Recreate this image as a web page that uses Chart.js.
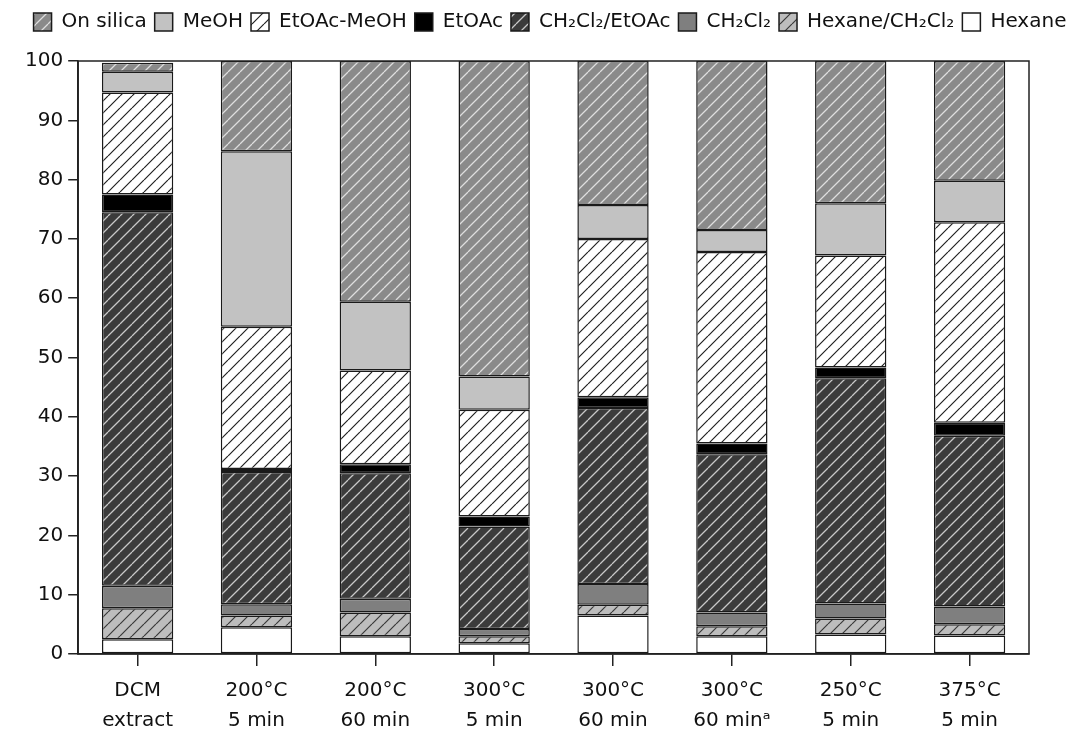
<!DOCTYPE html>
<html>
<head>
<meta charset="utf-8">
<script src="https://cdn.jsdelivr.net/npm/chart.js@4.4.1/dist/chart.umd.min.js"></script>
<style>
  html,body{margin:0;padding:0;background:#fff;}
  #wrap{width:1082px;height:731px;position:relative;}
</style>
</head>
<body>
<div id="wrap"><canvas id="c" width="1082" height="731"></canvas></div>
<script>
// categories (two-line labels)
const categories = [
  ["DCM","extract"],["200°C","5 min"],["200°C","60 min"],["300°C","5 min"],
  ["300°C","60 min"],["300°C","60 minᵃ"],["250°C","5 min"],["375°C","5 min"]
];
// fractions in %, bottom of stack first
const hexane       = [2.5, 4.5, 3.0, 1.8, 6.5, 3.0, 3.3, 3.1];
const hexaneDcm    = [5.2, 2.0, 4.0, 1.2, 1.8, 1.7, 2.7, 1.9];
const dcm          = [3.8, 1.9, 2.3, 1.2, 3.5, 2.3, 2.5, 3.0];
const dcmEtoac     = [63.0, 22.3, 21.2, 17.3, 29.7, 26.7, 38.0, 28.8];
const etoac        = [3.0, 0.5, 1.5, 1.7, 1.8, 1.8, 1.8, 2.2];
const etoacMeoh    = [17.2, 24.0, 15.8, 18.0, 26.7, 32.3, 18.9, 33.8];
const meoh         = [3.5, 29.6, 11.6, 5.6, 5.7, 3.7, 8.8, 7.0];
const onSilica     = [1.5, 15.2, 40.6, 53.2, 24.3, 28.5, 24.0, 20.2];
const yTicks = [0,10,20,30,40,50,60,70,80,90,100];

function hatch(bg, fg, lw, size){
  const c = document.createElement('canvas');
  c.width = c.height = size;
  const g = c.getContext('2d');
  g.fillStyle = bg; g.fillRect(0,0,size,size);
  g.strokeStyle = fg; g.lineWidth = lw;
  g.beginPath();
  [-size,0,size].forEach(k=>{ g.moveTo(k,size); g.lineTo(k+size,0); });
  g.stroke();
  return g.createPattern(c,'repeat');
}

const FONT = "'DejaVu Sans', sans-serif";
const series = [
  {label:"Hexane", data:hexane, backgroundColor:"#ffffff"},
  {label:"Hexane/CH₂Cl₂", data:hexaneDcm, backgroundColor:hatch("#bdbdbd","#3a3a3a",1.2,12)},
  {label:"CH₂Cl₂", data:dcm, backgroundColor:"#7f7f7f"},
  {label:"CH₂Cl₂/EtOAc", data:dcmEtoac, backgroundColor:hatch("#3b3b3b","#c8c8c8",1.3,12)},
  {label:"EtOAc", data:etoac, backgroundColor:"#000000"},
  {label:"EtOAc-MeOH", data:etoacMeoh, backgroundColor:hatch("#ffffff","#222222",1.2,12)},
  {label:"MeOH", data:meoh, backgroundColor:"#c2c2c2"},
  {label:"On silica", data:onSilica, backgroundColor:hatch("#8a8a8a","#dedede",1.3,12)}
].map(s=>Object.assign(s,{borderColor:"#1a1a1a", borderWidth:1.5, borderSkipped:false,
  barPercentage:0.6, categoryPercentage:1.0}));

// box around plot area + extra gap under the legend
const frame = {
  id:'frame',
  beforeInit(chart){
    const fit = chart.legend.fit;
    chart.legend.fit = function(){ fit.call(this); this.height += 19; };
  },
  afterDatasetsDraw(chart){
    const {ctx, chartArea:a} = chart;
    ctx.save(); ctx.strokeStyle="#222"; ctx.lineWidth=1.5;
    ctx.strokeRect(a.left, a.top, a.right-a.left, a.bottom-a.top);
    ctx.restore();
  }
};

new Chart(document.getElementById('c'), {
  type:'bar',
  data:{labels:categories, datasets:series},
  plugins:[frame],
  options:{
    responsive:false, animation:false,
    layout:{padding:{left:20, right:2, top:4, bottom:-15}},
    plugins:{
      tooltip:{enabled:false},
      legend:{position:'top', reverse:true,
        labels:{color:"#111", font:{family:FONT, size:20}, boxWidth:18, boxHeight:18, padding:8}}
    },
    scales:{
      x:{stacked:true,
        grid:{display:true, drawOnChartArea:false, offset:false, tickLength:12, color:"#222", lineWidth:1.5},
        border:{color:"#222", width:1.5},
        ticks:{color:"#111", font:{family:FONT, size:20, lineHeight:1.5}, padding:10, maxRotation:0}},
      y:{stacked:true, min:0, max:100,
        afterBuildTicks(ax){ ax.ticks = yTicks.map(v=>({value:v})); },
        grid:{display:true, drawOnChartArea:false, tickLength:10, color:"#222", lineWidth:1.5},
        border:{color:"#222", width:1.5},
        ticks:{color:"#111", font:{family:FONT, size:20}, padding:5}},
      yPad:{position:'right', display:true, min:0, max:100,
        grid:{display:false}, border:{display:false}, ticks:{display:false},
        afterFit(ax){ ax.width = 51; }}
    }
  }
});
</script>
</body>
</html>
